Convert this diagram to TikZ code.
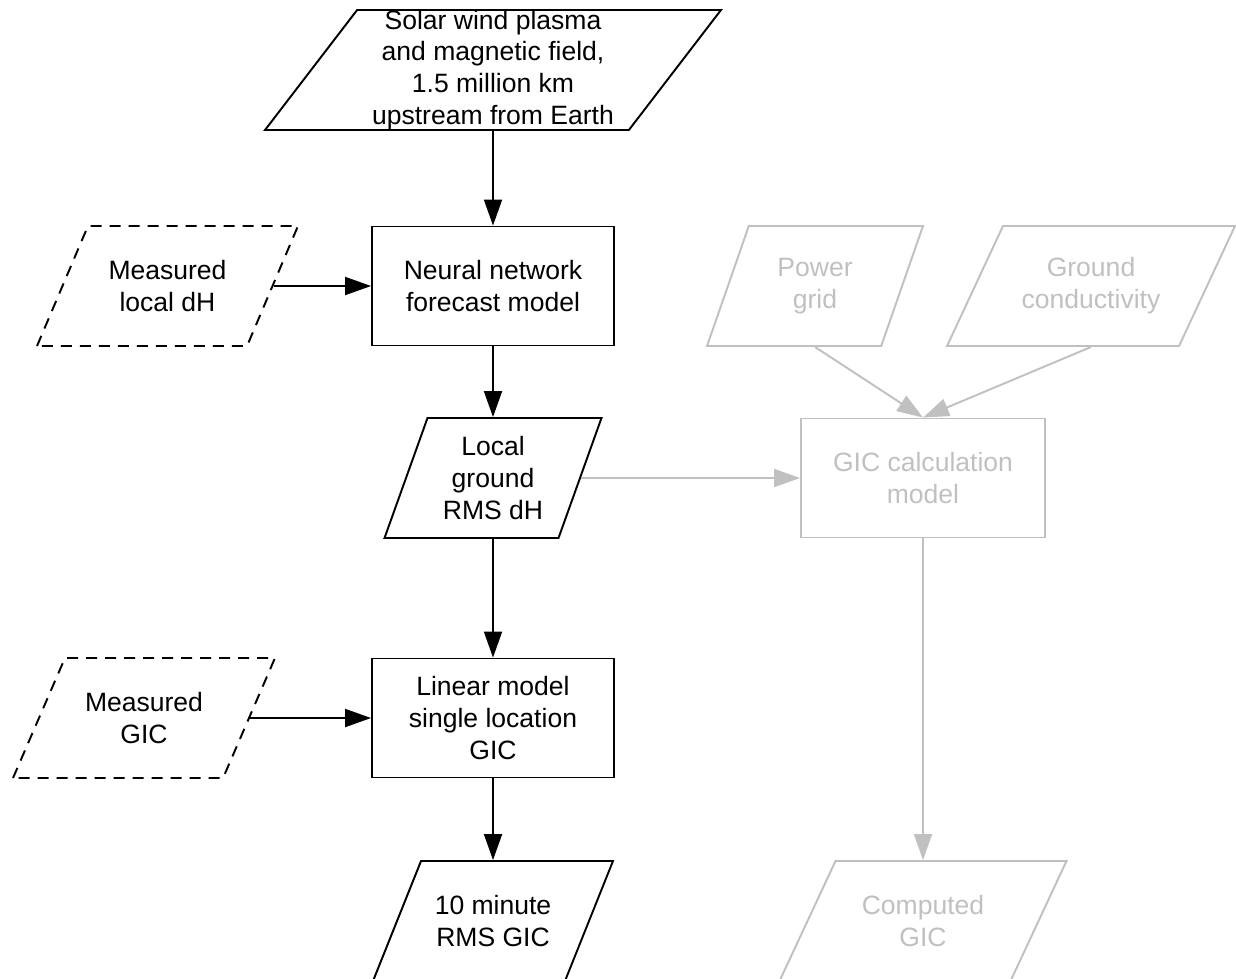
\documentclass[tikz,border=0pt]{standalone}
\usepackage{fontspec}
\setmainfont{Liberation Sans}
\usetikzlibrary{shapes.geometric,arrows.meta}
\definecolor{faded}{RGB}{192,192,192}
\begin{document}
\begin{tikzpicture}[x=0.02cm,y=-0.02cm,
    every node/.style={font=\fontsize{15.1}{18.1}\selectfont, align=center, inner sep=2pt},
    procbox/.style={draw, line width=1.1pt, minimum width=4.84cm, minimum height=2.38cm},
    iobox/.style={draw, line width=1.1pt, trapezium, trapezium stretches body,
      trapezium left angle=#1, trapezium right angle={180-#1},
      inner xsep=0pt, inner ysep=1.2cm, minimum height=2.4cm},
    measured/.style={dash pattern=on 0.22cm off 0.16cm},
    faint/.style={draw=faded, text=faded},
    arr/.style={line width=1.1pt, -{Triangle[length=0.52cm,width=0.36cm]}},
    farr/.style={arr, draw=faded}]
  \useasboundingbox (0,0) rectangle (1236,978);

  %%%%%%%%%%%%%%%%%%%%%%%%%%%%%%%%%%%%%%%%%%%%%%%%%%%%%%%%%%%%%%%%%%%%%%%%%%%
  %%%%  Forecast chain
  \node[iobox=52.5, minimum width=9.12cm,
    label={center:{Solar wind plasma\\and magnetic field,\\1.5 million km\\upstream from Earth}}]
    (solar) at (493,70) {};
  \node[procbox] (forecast) at (493,286) {Neural network\\forecast model};
  \node[iobox=70.3, minimum width=4.34cm, label={center:{Local\\ground\\RMS dH}}]
    (localdh) at (493,478) {};
  \node[procbox] (linear) at (493,718) {Linear model\\single location\\GIC};
  \node[iobox=68.2, minimum width=4.8cm, label={center:{10 minute\\RMS GIC}}]
    (rmsgic) at (493,921) {};

  %%%%  Measured inputs
  \node[iobox=67, measured, minimum width=5.22cm, label={center:{Measured\\local dH}}]
    (measdh) at (167.5,286) {};
  \node[iobox=66.6, measured, minimum width=5.24cm, label={center:{Measured\\GIC}}]
    (measgic) at (144,718) {};

  %%%%%%%%%%%%%%%%%%%%%%%%%%%%%%%%%%%%%%%%%%%%%%%%%%%%%%%%%%%%%%%%%%%%%%%%%%%
  %%%%  GIC calculation (grey)
  \node[iobox=70.8, faint, minimum width=4.32cm, label={[faded]center:{Power\\grid}}]
    (grid) at (815,286) {};
  \node[iobox=65, faint, minimum width=5.76cm, label={[faded]center:{Ground\\conductivity}}]
    (cond) at (1091,286) {};
  \node[procbox, faint, minimum width=4.88cm] (gicmodel) at (923,478) {GIC calculation\\model};
  \node[iobox=65, faint, minimum width=5.74cm, label={[faded]center:{Computed\\GIC}}]
    (computed) at (923,921) {};

  \draw[arr] (solar) -- (forecast);
  \draw[arr] (measdh) -- (forecast);
  \draw[arr] (forecast) -- (localdh);
  \draw[arr] (localdh) -- (linear);
  \draw[arr] (measgic) -- (linear);
  \draw[arr] (linear) -- (rmsgic);

  \draw[farr] (grid.south) -- (gicmodel.north);
  \draw[farr] (cond.south) -- (gicmodel.north);
  \draw[farr] (localdh) -- (gicmodel);
  \draw[farr] (gicmodel) -- (computed);
\end{tikzpicture}
\end{document}
